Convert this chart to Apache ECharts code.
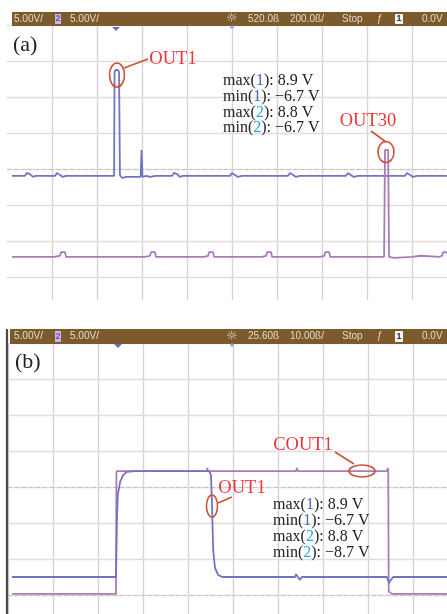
<!DOCTYPE html>
<html><head><meta charset="utf-8">
<script src="https://cdn.jsdelivr.net/npm/echarts@6/dist/echarts.min.js"></script>
<style>html,body{margin:0;padding:0;background:#fff}#c{width:447px;height:614px}</style>
</head><body><div id="c"></div>
<script>
// ---- data (x in time divisions, y in vertical divisions from screen centre) ----
const ch1A = [[0.11,-0.19],[0.40,-0.19],[0.44,-0.11],[0.51,-0.14],[0.58,-0.22],[0.64,-0.19],
  [1.07,-0.19],[1.11,-0.11],[1.18,-0.17],[1.24,-0.22],[1.31,-0.19],
  [2.38,-0.19],[2.39,2.69],[2.41,2.75],[2.47,2.75],[2.49,2.69],[2.51,-0.17],[2.56,-0.25],[2.64,-0.22],[2.73,-0.22],
  [2.97,-0.22],[2.99,0.53],[3.01,-0.22],[3.09,-0.19],[3.18,-0.22],[3.30,-0.19],
  [3.67,-0.19],[3.71,-0.11],[3.78,-0.14],[3.84,-0.22],[3.91,-0.19],
  [4.29,-0.19],[4.33,-0.22],[4.40,-0.19],
  [4.96,-0.19],[5.00,-0.11],[5.07,-0.17],[5.13,-0.22],[5.22,-0.19],
  [6.24,-0.19],[6.29,-0.11],[6.36,-0.17],[6.42,-0.22],[6.51,-0.19],
  [7.53,-0.19],[7.58,-0.11],[7.64,-0.17],[7.71,-0.22],[7.80,-0.19],
  [8.84,-0.19],[8.89,-0.11],[8.96,-0.17],[9.02,-0.22],[9.11,-0.19],
  [9.78,-0.19]];
const ch2A = [[0.11,-2.44],[1.05,-2.44],[1.18,-2.41],[1.20,-2.31],[1.29,-2.31],[1.31,-2.44],
  [3.07,-2.44],[3.18,-2.41],[3.20,-2.31],[3.29,-2.31],[3.31,-2.44],
  [4.38,-2.44],[4.47,-2.41],[4.49,-2.31],[4.58,-2.31],[4.60,-2.44],
  [5.67,-2.44],[5.76,-2.41],[5.78,-2.31],[5.87,-2.31],[5.89,-2.44],
  [6.96,-2.44],[7.05,-2.41],[7.07,-2.31],[7.16,-2.31],[7.18,-2.44],
  [8.38,-2.44],[8.40,0.53],[8.47,0.53],[8.49,-2.44],[8.60,-2.47],[9.00,-2.44],[9.20,-2.41],
  [9.60,-2.44],[9.67,-2.41],[9.69,-2.31],[9.76,-2.31],[9.78,-2.36]];
const ch1B = [[0.09,-2.50],[2.40,-2.50],[2.42,-0.92],[2.44,-0.22],[2.49,0.14],[2.56,0.33],[2.64,0.42],[2.82,0.44],
  [4.42,0.44],[4.47,0.44],[4.51,0.33],[4.53,-0.36],[4.56,-1.75],[4.60,-2.25],[4.67,-2.44],[4.76,-2.50],
  [6.38,-2.50],[6.40,-2.42],[6.44,-2.50],[6.49,-2.58],[6.53,-2.50],
  [8.42,-2.50],[8.47,-2.67],[8.51,-2.58],[8.56,-2.50],[9.76,-2.50]];
const ch2B = [[0.09,-2.97],[2.40,-2.97],[2.41,0.44],[2.44,0.47],
  [4.42,0.44],[4.43,0.53],[4.44,0.44],
  [6.40,0.44],[6.42,0.53],[6.44,0.44],
  [8.42,0.44],[8.44,0.53],[8.45,0.44],[8.46,-2.90],[8.53,-2.97],[9.76,-2.97]];

const gridLevels = [-3, -2, -1, 0, 1, 2, 3, 4];      // horizontal graticule, divisions
const dashedLevelsA = [0];
const dashedLevelsB = [0, -3];

const barTextsA = ['5.00V/', '2', '5.00V/', '\u263C', '520.0\u00DF', '200.0\u00DF/', 'Stop', '\u0192', '1', '0.0V'];
const barTextsB = ['5.00V/', '2', '5.00V/', '\u263C', '25.60\u00DF', '10.00\u00DF/', 'Stop', '\u0192', '1', '0.0V'];
const statLabels = ['max', 'min', 'max', 'min'];
const statChannels = ['1', '1', '2', '2'];
const statValuesA = ['8.9 V', '\u22126.7 V', '8.8 V', '\u22126.7 V'];
const statValuesB = ['8.9 V', '\u22126.7 V', '8.8 V', '\u22128.7 V'];

// ---- styles / layout ----
const C1 = '#7075bf', C2 = '#a87cb8', GRIDC = '#dcd1d1', HGRIDC = '#e3dada', RED = '#e8373a', ELL = '#cc5238';
const DIV = 45; // pixels per division
const barXs = [14, 55, 70, 226, 248, 290, 342, 377, 395, 422];

function barGraphics(x0, y0, h, texts) {
  const g = [{type:'rect', shape:{x:x0, y:y0, width:447 - x0, height:h}, style:{fill:'#7c5a2c'}, z:60}];
  const cy = y0 + h / 2;
  texts.forEach((t, i) => {
    const x = barXs[i];
    if (i === 1 || i === 8) {
      g.push({type:'rect', shape:{x:x, y:y0 + 2, width:i === 1 ? 6 : 8, height:h - 4}, style:{fill:i === 1 ? '#cbb8ea' : '#f2f2f2'}, z:61});
      g.push({type:'text', x:x + (i === 1 ? 3 : 4), y:cy, style:{text:t, fill:i === 1 ? '#6a5a8a' : '#333', font:'bold 9px "Liberation Sans"', align:'center', verticalAlign:'middle'}, z:62});
    } else {
      g.push({type:'text', x:x, y:cy, style:{text:t, fill:'#e4dac8', font:(i === 3 ? '13px "DejaVu Sans"' : '10px "Liberation Sans"'), verticalAlign:'middle'}, z:62});
    }
  });
  return g;
}
function statGraphics(x, y0, step, values) {
  const f = '16px "Liberation Serif"';
  return values.map((v, i) => ({
    type:'text', x:x, y:y0 + i * step, z:80,
    style:{text:'{t|' + statLabels[i] + '(}{' + (statChannels[i] === '1' ? 'a' : 'b') + '|' + statChannels[i] + '}{t|): ' + v + '}',
      verticalAlign:'middle',
      rich:{t:{font:f, fill:'#222'}, a:{font:f, fill:'#4a62b8'}, b:{font:f, fill:'#2aa6e0'}}}
  }));
}
function annot(text, tx, ty, cx, cy, rx, ry, l) {
  return [
    {type:'text', x:tx, y:ty, z:80, style:{text:text, fill:RED, font:'18.5px "Liberation Serif"', align:'center', verticalAlign:'middle'}},
    {type:'ellipse', z:80, shape:{cx:cx, cy:cy, rx:rx, ry:ry}, style:{fill:'none', stroke:ELL, lineWidth:1.6}},
    {type:'line', z:80, shape:{x1:l[0], y1:l[1], x2:l[2], y2:l[3]}, style:{stroke:ELL, lineWidth:1.6}}
  ];
}

const graphic = [].concat(
  [{type:'rect', shape:{x:0, y:300, width:447, height:29}, style:{fill:'#fff'}, z:50}],
  barGraphics(12, 12, 14, barTextsA),
  barGraphics(10, 329, 15, barTextsB),
  [{type:'line', shape:{x1:7, y1:329, x2:7, y2:614}, style:{stroke:'#4a4a4a', lineWidth:2.2}, z:60},
   {type:'polygon', shape:{points:[[112,27],[120,27],[116,31]]}, style:{fill:'#6a6cc0'}, z:60},
   {type:'circle', shape:{cx:232, cy:27, r:1.8}, style:{fill:'#9aa0c8'}, z:60},
   {type:'polygon', shape:{points:[[114,344],[122,344],[118,348]]}, style:{fill:'#6a6cc0'}, z:60},
   {type:'circle', shape:{cx:232, cy:345, r:1.8}, style:{fill:'#9aa0c8'}, z:60},
   {type:'text', x:13, y:45, z:80, style:{text:'(a)', fill:'#222', font:'22px "Liberation Serif"', verticalAlign:'middle'}},
   {type:'text', x:15, y:362, z:80, style:{text:'(b)', fill:'#222', font:'22px "Liberation Serif"', verticalAlign:'middle'}}],
  statGraphics(223, 81, 15.7, statValuesA),
  statGraphics(273, 505, 16, statValuesB),
  annot('OUT1', 173, 59, 117, 75, 7.5, 12, [124, 68, 148, 59]),
  annot('OUT30', 368, 121, 386, 152, 8, 10.5, [371, 131, 386, 142]),
  annot('OUT1', 242, 488, 212, 506, 5.5, 11, [218, 503, 232, 497]),
  annot('COUT1', 303, 445, 362, 471, 13, 6, [335, 452, 354, 464])
);

// grids kept inside the 447x614 canvas; the axis ranges carry the visible fraction of the screen
const gridA = {left:7, top:25, width:440, height:288};
const gridB = {left:8, top:343, width:439, height:271};

function xAx(gi, g, showMin) {
  return {type:'value', gridIndex:gi, min:0, max:g.width / DIV, interval:1,
    axisLine:{show:false}, axisTick:{show:false}, axisLabel:{show:false},
    splitLine:{show:true, showMinLine:showMin, showMaxLine:false, lineStyle:{color:GRIDC, width:1.4}}};
}
function yAx(gi, g) {
  return {type:'value', gridIndex:gi, max:4, min:4 - g.height / 36,
    axisLine:{show:false}, axisTick:{show:false}, axisLabel:{show:false}, splitLine:{show:false}};
}
function gridSeries(gi, dashedLevels) {
  return {type:'line', xAxisIndex:gi, yAxisIndex:gi, data:[], z:1, silent:true,
    markLine:{symbol:'none', silent:true, label:{show:false}, animation:false,
      data:gridLevels.map(v => ({yAxis:v, lineStyle:{color:HGRIDC, width:1.4, type:'solid'}}))
        .concat(dashedLevels.map(v => ({yAxis:v, lineStyle:{color:'#c9c0c0', width:1.2, type:[4, 3]}})))}};
}
function trace(data, color, gi) {
  return {type:'line', xAxisIndex:gi, yAxisIndex:gi, data:data, showSymbol:false, symbol:'none',
    lineStyle:{color:color, width:1.8}, itemStyle:{color:color}, clip:true, z:5};
}

const chart = echarts.init(document.getElementById('c'));
chart.setOption({
  animation:false,
  backgroundColor:'#fff',
  grid:[gridA, gridB],
  xAxis:[xAx(0, gridA, false), xAx(1, gridB, true)],
  yAxis:[yAx(0, gridA), yAx(1, gridB)],
  series:[
    gridSeries(0, dashedLevelsA),
    gridSeries(1, dashedLevelsB),
    trace(ch1A, C1, 0),
    trace(ch2A, C2, 0),
    trace(ch2B, C2, 1),
    trace(ch1B, C1, 1)
  ],
  graphic:graphic
});
</script></body></html>
